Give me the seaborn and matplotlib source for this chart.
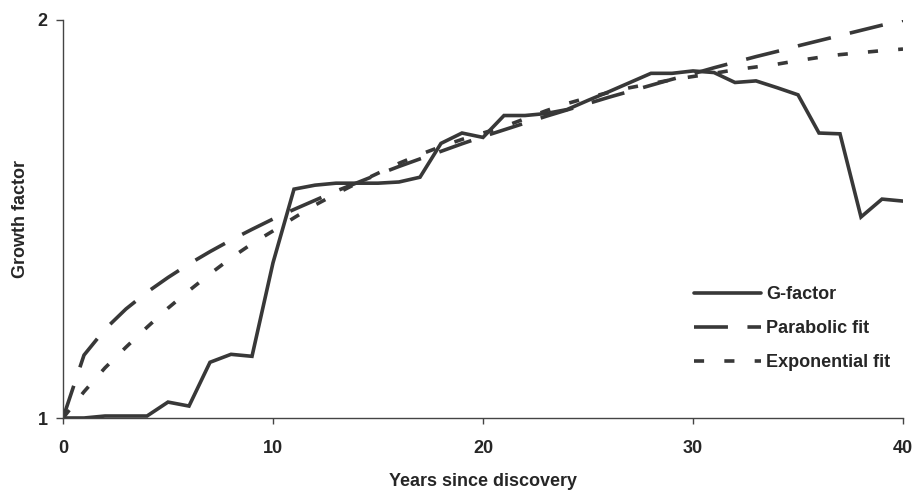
import matplotlib
matplotlib.use("Agg")
import matplotlib.pyplot as plt
import seaborn as sns
import numpy as np

years = list(range(0, 41))
g_factor = [1.000, 1.000, 1.005, 1.005, 1.005, 1.040, 1.030, 1.140, 1.160, 1.155,
            1.390, 1.575, 1.585, 1.590, 1.590, 1.590, 1.593, 1.605, 1.690, 1.716,
            1.705, 1.760, 1.760, 1.765, 1.775, 1.798, 1.820, 1.843, 1.866, 1.866,
            1.872, 1.868, 1.843, 1.847, 1.830, 1.812, 1.716, 1.714, 1.505, 1.550,
            1.545]
parabolic_fit = [1.000, 1.158, 1.223, 1.274, 1.316, 1.353, 1.387, 1.418, 1.447, 1.474,
                 1.500, 1.524, 1.547, 1.570, 1.591, 1.612, 1.632, 1.651, 1.670, 1.689,
                 1.707, 1.724, 1.741, 1.758, 1.774, 1.790, 1.806, 1.821, 1.836, 1.851,
                 1.865, 1.880, 1.894, 1.908, 1.921, 1.935, 1.948, 1.961, 1.974, 1.987,
                 1.999]
exponential_fit = [1.000, 1.066, 1.126, 1.178, 1.228, 1.276, 1.320, 1.362, 1.402, 1.438,
                   1.470, 1.503, 1.535, 1.563, 1.590, 1.615, 1.640, 1.662, 1.682, 1.700,
                   1.716, 1.732, 1.752, 1.772, 1.790, 1.805, 1.818, 1.830, 1.840, 1.850,
                   1.858, 1.866, 1.875, 1.882, 1.889, 1.898, 1.906, 1.913, 1.918, 1.923,
                   1.927]
series_labels = ["G-factor", "Parabolic fit", "Exponential fit"]
x_ticks = [0, 10, 20, 30, 40]
y_ticks = [1, 2]

sns.set_style("ticks")
plt.rcParams['font.family'] = ['Liberation Sans', 'DejaVu Sans']

W, H = 913, 490
fig = plt.figure(figsize=(W / 100, H / 100), dpi=100)
ax = fig.add_axes([63 / W, (H - 418) / H, 840 / W, 398 / H])

col = "#383838"
lw = 2.6
sns.lineplot(x=years, y=g_factor, ax=ax, color=col, linewidth=lw,
             label=series_labels[0], solid_joinstyle="miter")
sns.lineplot(x=years, y=parabolic_fit, ax=ax, color=col, linewidth=lw,
             label=series_labels[1], linestyle=(0, (9.4, 5.4)))
sns.lineplot(x=years, y=exponential_fit, ax=ax, color=col, linewidth=lw,
             label=series_labels[2], linestyle=(0, (2.8, 5.6)))

ax.set_xlim(0, 40)
ax.set_ylim(1, 2)
ax.set_xticks(x_ticks)
ax.set_yticks(y_ticks)
fs = 13
ax.set_xticklabels([str(t) for t in x_ticks], fontsize=fs, fontweight="bold")
ax.set_yticklabels([str(t) for t in y_ticks], fontsize=fs, fontweight="bold")
ax.tick_params(axis="x", length=4, width=1, pad=12, color="#444444")
ax.tick_params(axis="y", length=5, width=1, pad=6, color="#444444")
for s in ["top", "right"]:
    ax.spines[s].set_visible(False)
for s in ["left", "bottom"]:
    ax.spines[s].set_color("#444444")
    ax.spines[s].set_linewidth(1.0)

ax.set_xlabel("Years since discovery", fontsize=fs, fontweight="bold", labelpad=11)
ax.set_ylabel("Growth factor", fontsize=fs, fontweight="bold", labelpad=6)

leg = ax.legend(loc="upper left", bbox_to_anchor=(694 / W, 1 - 286 / H),
                bbox_transform=fig.transFigure, frameon=False,
                prop={"size": fs, "weight": "bold"}, handlelength=3.7,
                handletextpad=0.3, labelspacing=0.95, borderpad=0, borderaxespad=0)

fig.savefig("out.png", dpi=100)
